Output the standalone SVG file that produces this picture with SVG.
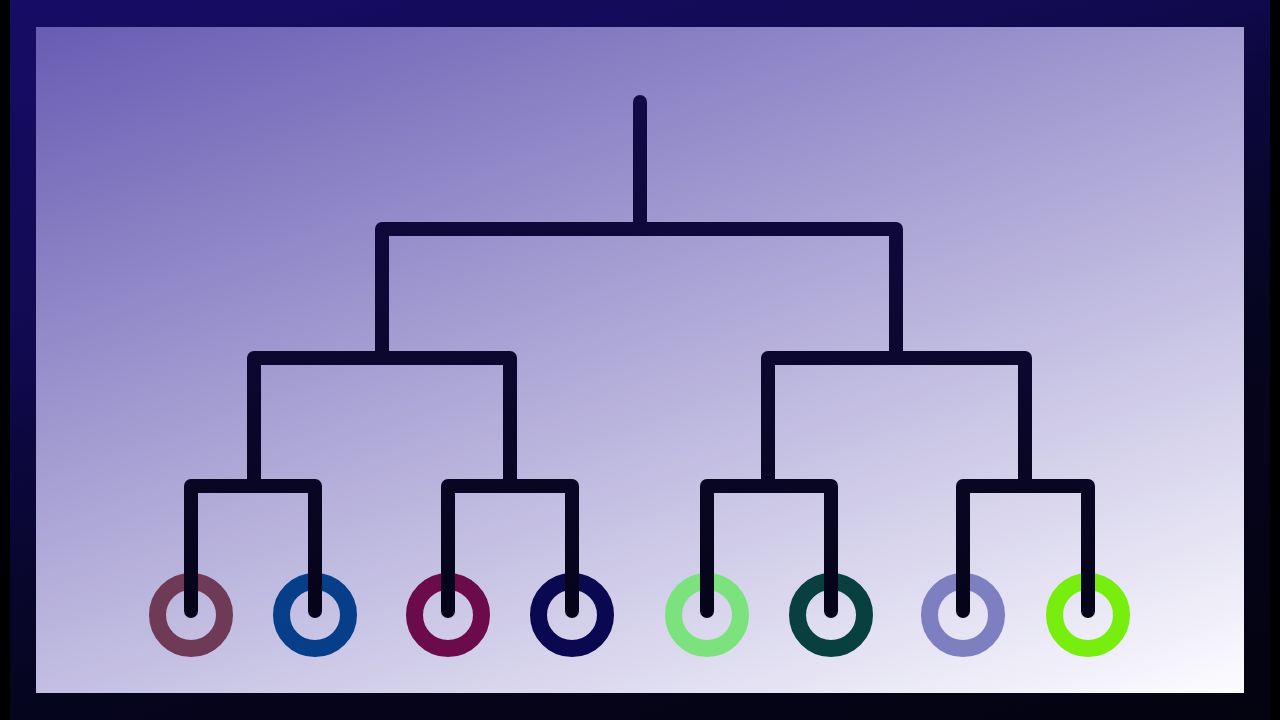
<svg xmlns="http://www.w3.org/2000/svg" width="1280" height="720" viewBox="0 0 1280 720">
  <defs>
    <linearGradient id="frameGrad" gradientUnits="userSpaceOnUse" x1="10" y1="0" x2="316" y2="1009">
      <stop offset="0" stop-color="#170c66"/>
      <stop offset="0.32" stop-color="#120a50"/>
      <stop offset="0.4" stop-color="#0d0740"/>
      <stop offset="0.63" stop-color="#06051f"/>
      <stop offset="1" stop-color="#040310"/>
    </linearGradient>
    <linearGradient id="bgGrad" gradientUnits="userSpaceOnUse" x1="36" y1="27" x2="373" y2="995">
      <stop offset="0" stop-color="#685cb3"/>
      <stop offset="0.5" stop-color="#b2acd9"/>
      <stop offset="1" stop-color="#fcfcff"/>
    </linearGradient>
    <linearGradient id="lineGrad" gradientUnits="userSpaceOnUse" x1="0" y1="95" x2="0" y2="620">
      <stop offset="0" stop-color="#110a46"/>
      <stop offset="1" stop-color="#060418"/>
    </linearGradient>
  </defs>
  <style>
    .leaf { fill: none; stroke-width: 17; }
    .conn { fill: none; stroke: url(#lineGrad); stroke-width: 14; stroke-linecap: round; stroke-linejoin: round; }
  </style>

  <rect x="0" y="0" width="1280" height="720" fill="#000000"/>
  <rect x="10" y="0" width="1260" height="720" fill="url(#frameGrad)"/>
  <rect x="36" y="27" width="1208" height="666" fill="url(#bgGrad)"/>

  <g id="leaves">
    <g id="leaf1"><circle class="leaf" cx="191" cy="615" r="33.5" stroke="#6e3a55"/></g>
    <g id="leaf2"><circle class="leaf" cx="315" cy="615" r="33.5" stroke="#073e8a"/></g>
    <g id="leaf3"><circle class="leaf" cx="448" cy="615" r="33.5" stroke="#6c0b4b"/></g>
    <g id="leaf4"><circle class="leaf" cx="572" cy="615" r="33.5" stroke="#0a0850"/></g>
    <g id="leaf5"><circle class="leaf" cx="707" cy="615" r="33.5" stroke="#7ce27e"/></g>
    <g id="leaf6"><circle class="leaf" cx="831" cy="615" r="33.5" stroke="#07403f"/></g>
    <g id="leaf7"><circle class="leaf" cx="963" cy="615" r="33.5" stroke="#7e7fc1"/></g>
    <g id="leaf8"><circle class="leaf" cx="1088" cy="615" r="33.5" stroke="#78ee0e"/></g>
  </g>

  <g id="connectors">
    <path class="conn" d="M640 102 V229"/>
    <path class="conn" d="M382 358 V229 H896 V358"/>
    <path class="conn" d="M254 486 V358 H510 V486"/>
    <path class="conn" d="M768 486 V358 H1025 V486"/>
    <path class="conn" d="M191 611 V486 H315 V611"/>
    <path class="conn" d="M448 611 V486 H572 V611"/>
    <path class="conn" d="M707 611 V486 H831 V611"/>
    <path class="conn" d="M963 611 V486 H1088 V611"/>
  </g>
</svg>
